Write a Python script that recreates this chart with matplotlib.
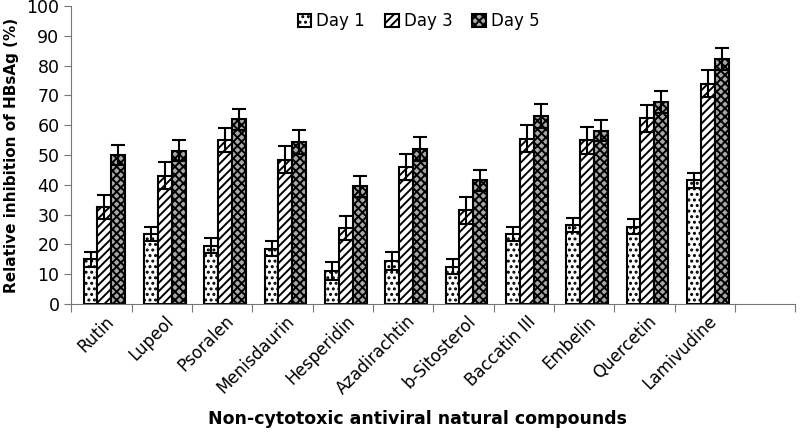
import numpy as np
import matplotlib
matplotlib.use('Agg')
import matplotlib.pyplot as plt

compounds = ["Rutin", "Lupeol", "Psoralen", "Menisdaurin", "Hesperidin", "Azadirachtin",
             "b-Sitosterol", "Baccatin III", "Embelin", "Quercetin", "Lamivudine"]
day1 = [15, 23.5, 19.5, 18.5, 11, 14.5, 12.5, 23.5, 26.5, 26, 41.5]
day1_err = [2.5, 2.5, 2.5, 2.5, 3, 3, 2.5, 2.5, 2.5, 2.5, 2.5]
day3 = [32.5, 43, 55, 48.5, 25.5, 46, 31.5, 55.5, 55, 62.3, 74]
day3_err = [4, 4.5, 4, 4.5, 4, 4.5, 4.5, 4.5, 4.5, 4.5, 4.5]
day5 = [50, 51.5, 62, 54.5, 39.5, 52, 41.5, 63, 58.2, 67.8, 82.2]
day5_err = [3.5, 3.5, 3.5, 4, 3.5, 4, 3.5, 4, 3.5, 3.7, 3.7]

plt.rcParams['hatch.linewidth'] = 1.4

fig = plt.figure(figsize=(8, 4.38), dpi=100)
ax = fig.add_axes([0.089, 0.306, 0.905, 0.68])

n_slots = len(compounds) + 1  # empty slot on the right like the original
x = np.arange(len(compounds)) + 0.55
w = 0.23

series = [(day1, day1_err, "Day 1", "white", "..."),
          (day3, day3_err, "Day 3", "white", "////"),
          (day5, day5_err, "Day 5", "#a8a8a8", "xxxx")]
for i, (vals, errs, lab, fc, hatch) in enumerate(series):
    ax.bar(x + (i - 1) * w, vals, w, color=fc, edgecolor="black", hatch=hatch,
           linewidth=1.5, label=lab, zorder=2)
    ax.errorbar(x + (i - 1) * w, vals, yerr=errs, fmt="none", ecolor="black",
                elinewidth=1.5, capsize=5, capthick=1.5, zorder=3)

ax.set_xlim(0, n_slots)
ax.set_ylim(0, 100)
ax.set_yticks(np.arange(0, 101, 10))
ax.set_xticks(np.arange(0, n_slots + 1))
ax.set_xticklabels([])
ax.set_xticks(x, minor=True)
ax.set_xticklabels(compounds, minor=True, rotation=45, ha="right", rotation_mode="anchor",
                   fontsize=12, family="DejaVu Sans")
ax.tick_params(axis="x", which="minor", length=0, pad=6)
ax.tick_params(axis="x", which="major", length=6, color="#777777")
ax.tick_params(axis="y", length=5, color="#777777", labelsize=12.5)
for s in ["top", "right"]:
    ax.spines[s].set_visible(False)
for s in ["left", "bottom"]:
    ax.spines[s].set_color("#777777")

ax.set_ylabel("Relative inhibition of HBsAg (%)", fontsize=11, fontweight="bold")
ax.yaxis.set_label_coords(-0.072, 0.5)
ax.set_xlabel("Non-cytotoxic antiviral natural compounds", fontsize=12.5, fontweight="bold")
ax.xaxis.set_label_coords((417 - 71) / 724, -0.355)

ax.legend(loc="upper center", bbox_to_anchor=(0.48, 1.03), ncol=3, frameon=False,
          fontsize=12, handlelength=0.8, handleheight=0.8, columnspacing=1.2,
          handletextpad=0.3)

fig.savefig("out.png", dpi=100)
